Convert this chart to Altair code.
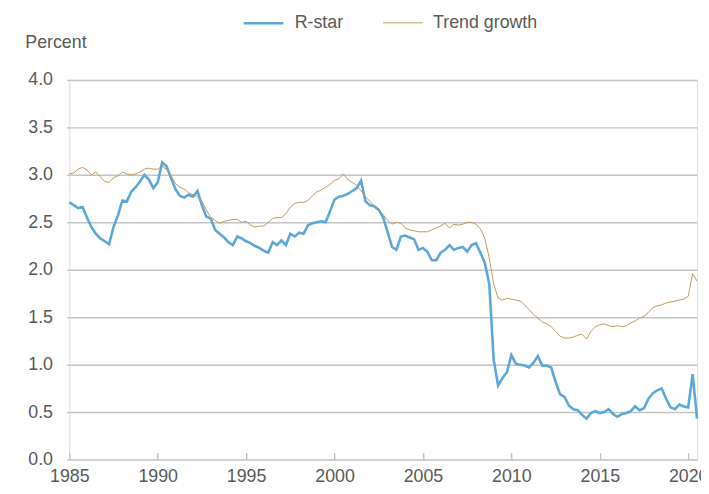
import altair as alt
import pandas as pd

# Quarterly observations, 1985Q1 .. 2020Q3
start_year = 1985
r_star = [
    2.71, 2.68, 2.65, 2.66, 2.55, 2.45, 2.38, 2.33, 2.30, 2.27,
    2.45, 2.57, 2.73, 2.72, 2.82, 2.87, 2.93, 3.00, 2.95, 2.86,
    2.92, 3.13, 3.09, 2.97, 2.85, 2.78, 2.76, 2.79, 2.77, 2.83,
    2.68, 2.56, 2.54, 2.42, 2.38, 2.34, 2.29, 2.26, 2.35, 2.33,
    2.30, 2.28, 2.25, 2.23, 2.20, 2.18, 2.29, 2.26, 2.31, 2.26,
    2.38, 2.35, 2.39, 2.38, 2.47, 2.49, 2.50, 2.51, 2.50, 2.62,
    2.74, 2.77, 2.78, 2.80, 2.83, 2.86, 2.94, 2.72, 2.68, 2.67,
    2.63, 2.55, 2.40, 2.24, 2.21, 2.35, 2.36, 2.34, 2.32, 2.21,
    2.23, 2.19, 2.10, 2.10, 2.18, 2.21, 2.26, 2.21, 2.23, 2.24,
    2.19, 2.26, 2.28, 2.18, 2.07, 1.85, 1.05, 0.78, 0.86, 0.92,
    1.10, 1.01, 1.00, 0.99, 0.97, 1.02, 1.09, 0.99, 0.99, 0.97,
    0.82, 0.69, 0.66, 0.57, 0.53, 0.52, 0.47, 0.43, 0.49, 0.51,
    0.49, 0.50, 0.53, 0.48, 0.45, 0.48, 0.49, 0.51, 0.56, 0.52,
    0.54, 0.64, 0.70, 0.73, 0.75, 0.64, 0.55, 0.53, 0.58, 0.56,
    0.55, 0.90, 0.43,
]
trend_growth = [
    3.01, 3.02, 3.06, 3.08, 3.05, 3.00, 3.03, 2.98, 2.93, 2.92,
    2.97, 2.99, 3.03, 3.01, 3.00, 3.01, 3.03, 3.06, 3.07, 3.06,
    3.06, 3.09, 3.06, 2.99, 2.91, 2.87, 2.85, 2.81, 2.79, 2.77,
    2.72, 2.63, 2.55, 2.52, 2.49, 2.51, 2.52, 2.53, 2.53, 2.50,
    2.51, 2.47, 2.45, 2.46, 2.46, 2.50, 2.54, 2.55, 2.55, 2.59,
    2.66, 2.70, 2.71, 2.71, 2.73, 2.78, 2.82, 2.84, 2.87, 2.90,
    2.94, 2.96, 3.01, 2.95, 2.92, 2.89, 2.83, 2.77, 2.72, 2.67,
    2.64, 2.58, 2.52, 2.48, 2.50, 2.49, 2.44, 2.42, 2.41, 2.40,
    2.40, 2.40, 2.42, 2.44, 2.46, 2.49, 2.44, 2.48, 2.47, 2.48,
    2.50, 2.50, 2.48, 2.43, 2.33, 2.12, 1.85, 1.70, 1.68, 1.70,
    1.69, 1.68, 1.67, 1.63, 1.58, 1.53, 1.49, 1.45, 1.43, 1.40,
    1.35, 1.30, 1.28, 1.28, 1.29, 1.31, 1.32, 1.27, 1.35, 1.40,
    1.42, 1.43, 1.41, 1.40, 1.41, 1.40, 1.41, 1.44, 1.46, 1.49,
    1.51, 1.55, 1.60, 1.62, 1.63, 1.65, 1.66, 1.67, 1.68, 1.69,
    1.72, 1.96, 1.88,
]
series_names = ["R-star", "Trend growth"]
series_colors = ["#5ba8d8", "#bc9a5e"]
series_widths = [2.6, 1.0]
x_ticks = [1985, 1990, 1995, 2000, 2005, 2010, 2015, 2020]
y_ticks = [0.0, 0.5, 1.0, 1.5, 2.0, 2.5, 3.0, 3.5, 4.0]

dates = [start_year + i * 0.25 for i in range(len(r_star))]
df = pd.concat([
    pd.DataFrame({"date": dates, "value": r_star, "series": series_names[0]}),
    pd.DataFrame({"date": dates, "value": trend_growth, "series": series_names[1]}),
])

FONT = "Liberation Sans"
TXT = "#595959"
GRID = "#c4c4c4"

chart = alt.Chart(df).mark_line(interpolate="linear").encode(
    x=alt.X("date:Q",
            scale=alt.Scale(domain=[1985, 2020.5], nice=False, zero=False),
            axis=alt.Axis(values=x_ticks, format="d", title=None, grid=False,
                          domain=False, offset=-7, tickSize=7, tickColor=GRID,
                          tickWidth=1.5, labelPadding=8, labelFontSize=18,
                          labelColor=TXT, labelFont=FONT, labelFlush=False)),
    y=alt.Y("value:Q",
            scale=alt.Scale(domain=[0, 4], nice=False),
            axis=alt.Axis(values=y_ticks, format=".1f", title="Percent",
                          titleAngle=0, titleAlign="left", titleBaseline="middle",
                          titleX=-45, titleY=-38, titleFontSize=18,
                          titleFontWeight="normal", titleColor=TXT, titleFont=FONT,
                          grid=True, gridColor=GRID, gridWidth=1.5,
                          domain=False, tickSize=3, tickColor=GRID, tickWidth=1.5,
                          labelPadding=14, labelFontSize=18, labelColor=TXT,
                          labelFont=FONT)),
    color=alt.Color("series:N",
                    scale=alt.Scale(domain=series_names, range=series_colors),
                    legend=alt.Legend(title=None, orient="none", direction="horizontal",
                                      legendX=175, legendY=-79,
                                      symbolType="stroke", symbolSize=1600,
                                      symbolStrokeWidth=3, labelFontSize=18,
                                      labelColor=TXT, labelFont=FONT,
                                      labelOffset=10, columnPadding=38)),
    strokeWidth=alt.StrokeWidth("series:N",
                                scale=alt.Scale(domain=series_names, range=series_widths),
                                legend=None),
    order="date:Q",
).properties(
    width=635,
    height=384,
    autosize=alt.AutoSizeParams(type="none"),
    padding={"left": 62, "top": 70, "right": 4, "bottom": 24},
).configure_view(stroke=None).configure(background="white")

chart.save("out.html", embed_options={"renderer": "svg", "actions": False})
